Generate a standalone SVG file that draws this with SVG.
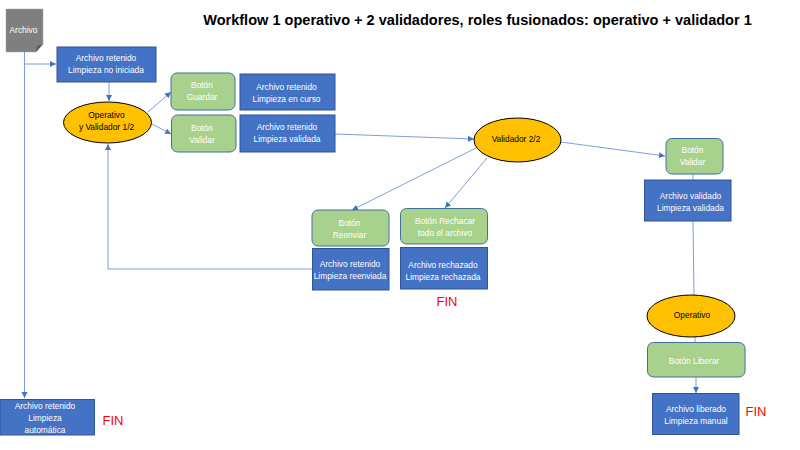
<svg xmlns="http://www.w3.org/2000/svg" width="800" height="450" viewBox="0 0 800 450">
<style>
text{font-family:"Liberation Sans",Arial,sans-serif;font-size:8.4px;text-anchor:middle}
.b rect{fill:#4472c4;stroke:#2f5597;stroke-width:1}
.b text{fill:#fff}
.g rect{fill:#a9d18e;stroke:#41719c;stroke-width:1}
.g text{fill:#fff}
.e ellipse{fill:#ffc000;stroke:#000;stroke-width:1}
.e text{fill:#000}
.fin{fill:#f00;font-size:13px}
.c path{fill:none;stroke:#7c9fdc;stroke-width:1;marker-end:url(#a)}
.c path.n{marker-end:none}
</style>
<defs><marker id="a" markerUnits="userSpaceOnUse" markerWidth="7" markerHeight="7" refX="6" refY="3" orient="auto"><path d="M0 0L6 3L0 6Z" fill="#4472c4"/></marker></defs>
<rect width="800" height="450" fill="#fff"/>
<text id="title" x="477.500" y="25" style="font-size:14.550px;font-weight:bold;fill:#000">Workflow 1 operativo + 2 validadores, roles fusionados: operativo + validador 1</text>
<g id="connectors" class="c">
<path class="n" d="M24.500 52V64"/>
<path d="M24.500 64H56"/>
<path d="M24.500 64V398"/>
<path d="M109 82V101"/>
<path d="M148 112L171 92"/>
<path d="M152 124L171 134"/>
<path d="M312 269H108V144"/>
<path d="M335 134L474 139"/>
<path d="M476 148L352 210"/>
<path d="M487 158L445 208"/>
<path d="M561 142L665 156"/>
<path class="n" d="M693 174V180"/>
<path class="n" d="M693 221L694 295"/>
<path class="n" d="M695 337V342"/>
<path d="M696 377V393"/>
</g>
<g id="archivo">
<path d="M6 9H43V44L36 52H6Z" fill="#7f7f7f" stroke="#a6a6a6" stroke-width=".5"/>
<path d="M36 52L37 46L43 44Z" fill="#595959"/>
<text x="23.500" y="33" fill="#fff">Archivo</text>
</g>
<g id="n1" class="b"><rect x="57" y="47" width="99" height="35"/><text x="106" y="61">Archivo retenido</text><text x="106" y="73">Limpieza no iniciada</text></g>
<g id="n2" class="e"><ellipse cx="107.500" cy="122.500" rx="44" ry="20.500"/><text x="106.500" y="118">Operativo</text><text x="106.500" y="130">y Validador 1/2</text></g>
<g id="n3" class="g"><rect x="171" y="73" width="64" height="37" rx="6"/><text x="202" y="88">Botón</text><text x="202" y="100">Guardar</text></g>
<g id="n4" class="g"><rect x="171.500" y="115" width="64.500" height="37" rx="6"/><text x="202" y="131">Botón</text><text x="202" y="143">Validar</text></g>
<g id="n5" class="b"><rect x="240" y="74" width="95" height="36"/><text x="286.500" y="90">Archivo retenido</text><text x="286.500" y="102">Limpieza en curso</text></g>
<g id="n6" class="b"><rect x="240" y="115" width="95" height="37"/><text x="287" y="130">Archivo retenido</text><text x="287" y="142">Limpieza validada</text></g>
<g id="n7" class="e"><ellipse cx="517.500" cy="140" rx="43.500" ry="22"/><text x="516" y="142">Validador 2/2</text></g>
<g id="n8" class="g"><rect x="312" y="210" width="77" height="36" rx="6"/><text x="349.500" y="226">Botón</text><text x="349.500" y="238">Reenviar</text></g>
<g id="n9" class="g"><rect x="400.500" y="208.500" width="87" height="35.500" rx="6"/><text x="445" y="224">Botón Rechacar</text><text x="445" y="236">todo el archivo</text></g>
<g id="n10" class="b"><rect x="312.500" y="248.500" width="76.500" height="41.500"/><text x="350" y="267">Archivo retenido</text><text x="350" y="279">Limpieza reenviada</text></g>
<g id="n11" class="b"><rect x="400.500" y="247.500" width="87" height="41.500"/><text x="443" y="268">Archivo rechazado</text><text x="443" y="280">Limpieza rechazada</text></g>
<text class="fin" x="447" y="306">FIN</text>
<g id="n12" class="g"><rect x="666" y="138.500" width="57" height="35.500" rx="6"/><text x="692.500" y="153">Botón</text><text x="692.500" y="165">Validar</text></g>
<g id="n13" class="b"><rect x="644.500" y="180" width="86.500" height="41"/><text x="690.500" y="199">Archivo validado</text><text x="690.500" y="211">Limpieza validada</text></g>
<g id="n14" class="e"><ellipse cx="691" cy="316" rx="44" ry="21"/><text x="692" y="318">Operativo</text></g>
<g id="n15" class="g"><rect x="647.500" y="342.500" width="97.500" height="34.500" rx="6"/><text x="694" y="364">Botón Liberar</text></g>
<g id="n16" class="b"><rect x="652.500" y="393.500" width="86.500" height="41"/><text x="696" y="412">Archivo liberado</text><text x="696" y="424">Limpieza manual</text></g>
<text class="fin" x="756" y="416">FIN</text>
<g id="n17" class="b"><rect x="0" y="399.500" width="94.500" height="35.500"/><text x="45" y="409">Archivo retenido</text><text x="45" y="421">Limpieza</text><text x="45" y="433">automática</text></g>
<text class="fin" x="113" y="425">FIN</text>
</svg>
